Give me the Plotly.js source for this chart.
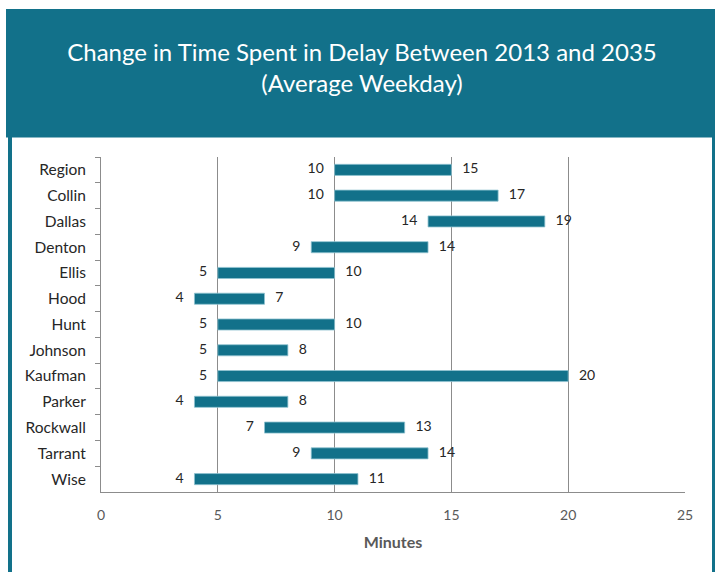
<!DOCTYPE html>
<html>
<head>
<meta charset="utf-8">
<script src="https://cdn.plot.ly/plotly-3.0.1.min.js"></script>
<style>
html,body{margin:0;padding:0;background:#fff;}
#chart{width:715px;height:572px;}
</style>
</head>
<body>
<div id="chart"></div>
<script>
const counties = ["Region","Collin","Dallas","Denton","Ellis","Hood","Hunt","Johnson","Kaufman","Parker","Rockwall","Tarrant","Wise"];
const delay2013 = [10,10,14,9,5,4,5,5,5,4,7,9,4];
const delay2035 = [15,17,19,14,10,7,10,8,20,8,13,14,11];
const xTicks = [0,5,10,15,20,25];

const teal = "#12718a";
const fontFam = "Lato, 'Open Sans', sans-serif";

// pixel -> paper helpers (plot area: x 101..685, y 157..492)
const L = 101, R = 685, T = 157, B = 492;
const px = v => (v - L) / (R - L);
const py = v => (B - v) / (B - T);

const spans = delay2035.map((e, i) => e - delay2013[i]);

const traces = [
  {
    type: "bar",
    orientation: "h",
    y: counties,
    x: spans,
    base: delay2013,
    width: 0.43,
    marker: {color: teal, line: {color: "#8fc3d1", width: 0.8}},
    hoverinfo: "skip",
    showlegend: false
  },
  {
    type: "scatter",
    mode: "text",
    y: counties,
    x: delay2013,
    text: delay2013.map(v => String(v)),
    texttemplate: "%{text}   ",
    textposition: "middle left",
    textfont: {family: fontFam, size: 14, color: "#262626"},
    cliponaxis: false,
    hoverinfo: "skip",
    showlegend: false
  },
  {
    type: "scatter",
    mode: "text",
    y: counties,
    x: delay2035,
    text: delay2035.map(v => String(v)),
    texttemplate: "   %{text}",
    textposition: "middle right",
    textfont: {family: fontFam, size: 14, color: "#262626"},
    cliponaxis: false,
    hoverinfo: "skip",
    showlegend: false
  }
];

const layout = {
  width: 715,
  height: 572,
  margin: {l: L, r: 715 - R, t: T, b: 572 - B, pad: 0},
  paper_bgcolor: "#ffffff",
  plot_bgcolor: "#ffffff",
  font: {family: fontFam},
  title: {
    text: "Change in Time Spent in Delay Between 2013 and 2035<br>(Average Weekday)",
    font: {family: fontFam, size: 24, color: "#ffffff"},
    x: 362 / 715,
    xanchor: "center",
    xref: "container",
    yref: "container",
    y: 1 - 61 / 572,
    yanchor: "middle"
  },
  xaxis: {
    range: [0, 25],
    tickvals: xTicks,
    ticktext: xTicks.map(String),
    showgrid: true,
    gridcolor: "#8c8c8c",
    gridwidth: 1,
    zeroline: false,
    showline: true,
    linecolor: "#8c8c8c",
    linewidth: 1,
    ticks: "",
    tickfont: {family: fontFam, size: 14, color: "#595959"},
    ticklabelstandoff: 10,
    title: {text: "<b>Minutes</b>", font: {family: fontFam, size: 16, color: "#595959"}, standoff: 15},
    fixedrange: true
  },
  yaxis: {
    type: "category",
    range: [12.5, -0.5],
    autorange: false,
    showgrid: false,
    zeroline: false,
    showline: true,
    linecolor: "#8c8c8c",
    linewidth: 1,
    ticks: "outside",
    tickson: "boundaries",
    ticklen: 5,
    tickcolor: "#8c8c8c",
    tickfont: {family: fontFam, size: 15.5, color: "#262626"},
    ticklabelstandoff: 11,
    fixedrange: true
  },
  shapes: [
    {type: "rect", xref: "paper", yref: "paper", x0: px(6), x1: px(716), y0: py(137.5), y1: py(9), fillcolor: teal, line: {width: 0}, layer: "below"},
    {type: "rect", xref: "paper", yref: "paper", x0: px(8), x1: px(12), y0: py(580), y1: py(9), fillcolor: teal, line: {width: 0}, layer: "below"},
    {type: "rect", xref: "paper", yref: "paper", x0: px(712), x1: px(716), y0: py(580), y1: py(9), fillcolor: teal, line: {width: 0}, layer: "below"}
  ],
  showlegend: false
};

Plotly.newPlot("chart", traces, layout, {displayModeBar: false, staticPlot: true});
</script>
</body>
</html>
